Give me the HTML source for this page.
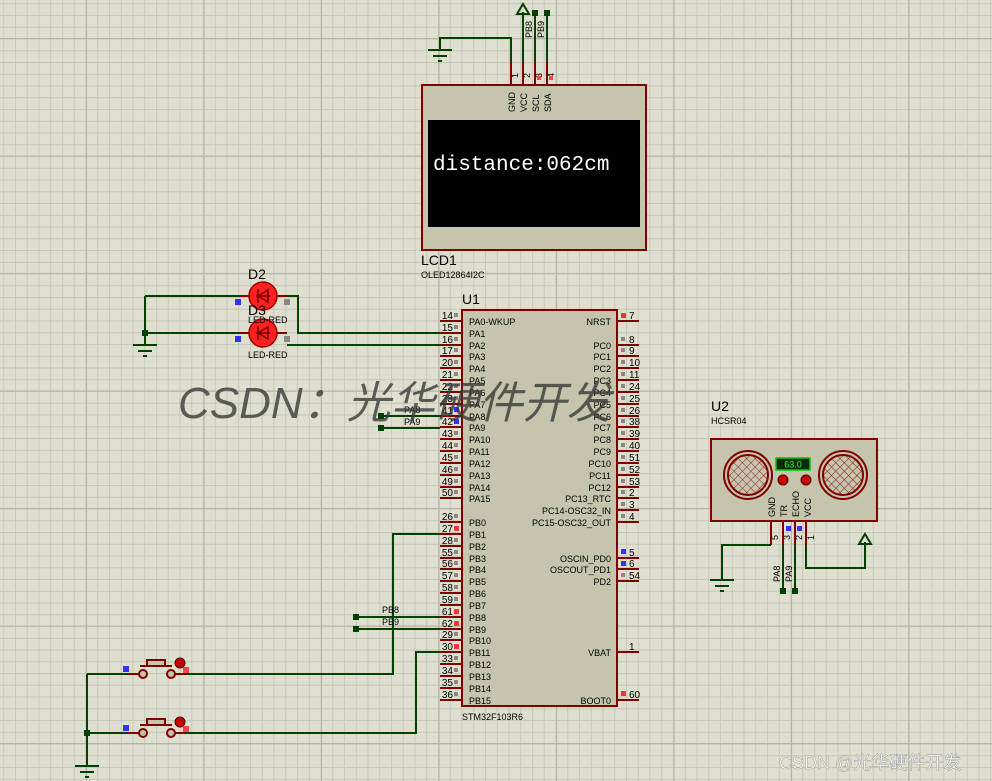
<!DOCTYPE html>
<html><head><meta charset="utf-8"><style>
html,body{margin:0;padding:0;background:#dfdfcf}
svg{display:block}
text{font-family:"Liberation Sans",Arial,sans-serif}
</style></head><body>
<svg width="992" height="781" viewBox="0 0 992 781" xmlns="http://www.w3.org/2000/svg">
<defs>
<pattern id="mi" x="3.3" y="3.3" width="11.75" height="11.75" patternUnits="userSpaceOnUse"><path d="M0 0H11.75M0 0V11.75" stroke="#c3c3b3" stroke-width="1.6" fill="none"/></pattern>
<pattern id="ma" x="86" y="38" width="117.5" height="117.5" patternUnits="userSpaceOnUse"><path d="M0 0H117.5M0 0V117.5" stroke="#b5b5a5" stroke-width="2.2" fill="none"/></pattern>
<pattern id="mesh" width="6" height="6" patternUnits="userSpaceOnUse" patternTransform="rotate(45)"><path d="M0 0H6M0 0V6" stroke="#8a1c1c" stroke-width="1"/></pattern>
</defs>
<rect width="992" height="781" fill="#dfdfcf"/>
<rect width="992" height="781" fill="url(#mi)"/>
<rect width="992" height="781" fill="url(#ma)"/>

<g stroke="#004000" stroke-width="2" fill="none">
<path d="M511 62V38H440V50"/><path d="M523 62V12"/><path d="M535 62V13"/><path d="M547 62V13"/>
<path d="M145 296H248M145 296V345M145 333H248M287 296H298V333H440M287 345H440"/>
<path d="M381 416H440M381 428H440"/>
<path d="M356 617H440M356 629H440"/>
<path d="M440 534H393V674H177M440 652H416V733H177"/>
<path d="M87 674H135M87 733H135M87 674V765"/>
<path d="M771 545H722V580M783 545V591M795 545V591M806 545V568H865V542"/>
</g>
<g fill="#004000">
<rect x="142" y="330" width="6" height="6"/><rect x="378" y="413" width="6" height="6"/><rect x="378" y="425" width="6" height="6"/>
<rect x="353" y="614" width="6" height="6"/><rect x="353" y="626" width="6" height="6"/><rect x="84" y="730" width="6" height="6"/>
<rect x="532" y="10" width="6" height="6"/><rect x="544" y="10" width="6" height="6"/>
<rect x="780" y="588" width="6" height="6"/><rect x="792" y="588" width="6" height="6"/>
</g>
<g stroke="#004000" stroke-width="2" fill="none">
<path d="M517 14L523 4L529 14Z"/><path d="M859 544L865 534L871 544Z"/>
<path d="M428 50H452M433 56H447M438 61H442"/>
<path d="M133 345H157M138 351H152M143 356H147"/>
<path d="M710 580H734M715 586H729M720 591H724"/>
<path d="M75 766H99M80 772H94M85 777H89"/>
</g>
<g font-size="9" fill="#000">
<text x="404" y="413">PA8</text><text x="404" y="425">PA9</text>
<text x="382" y="613">PB8</text><text x="382" y="625">PB9</text>
<text transform="translate(532,38) rotate(-90)">PB8</text><text transform="translate(544,38) rotate(-90)">PB9</text>
<text transform="translate(780,582) rotate(-90)">PA8</text><text transform="translate(792,582) rotate(-90)">PA9</text>
</g>

<g stroke="#800000" stroke-width="2"><path d="M511 62V85M523 62V85M535 62V85M547 62V85"/></g>
<rect x="422" y="85" width="224" height="165" fill="#c5c5ad" stroke="#800000" stroke-width="2"/>
<rect x="428" y="120" width="212" height="107" fill="#000"/>
<text x="433" y="170" font-size="21" fill="#fff" style="font-family:'Liberation Mono',monospace">distance:062cm</text>
<g font-size="9" fill="#000">
<text transform="translate(515,112) rotate(-90)">GND</text><text transform="translate(527,112) rotate(-90)">VCC</text>
<text transform="translate(539,112) rotate(-90)">SCL</text><text transform="translate(551,112) rotate(-90)">SDA</text>
<text transform="translate(518,78) rotate(-90)">1</text><text transform="translate(530,78) rotate(-90)">2</text>
<text transform="translate(542,78) rotate(-90)">3</text><text transform="translate(554,78) rotate(-90)">4</text>
</g>
<rect x="537" y="76" width="4" height="4" fill="#f44"/><rect x="549" y="76" width="4" height="4" fill="#f44"/>
<text x="421" y="265" font-size="14">LCD1</text><text x="421" y="278" font-size="9">OLED12864I2C</text>

<g stroke="#800000" stroke-width="2"><path d="M240 296H287M240 333H287"/></g>
<circle cx="263" cy="296" r="14" fill="#ff2020" stroke="#900" stroke-width="1.5"/>
<circle cx="263" cy="333" r="14" fill="#ff2020" stroke="#900" stroke-width="1.5"/>
<g stroke="#700" stroke-width="1.5" fill="none"><path d="M256 296H270M268 290L258 296L268 302ZM258 289V303"/><path d="M256 333H270M268 327L258 333L268 339ZM258 326V340"/></g>
<rect x="235" y="299" width="6" height="6" fill="#33f"/><rect x="235" y="336" width="6" height="6" fill="#33f"/>
<rect x="284" y="299" width="6" height="6" fill="#888"/><rect x="284" y="336" width="6" height="6" fill="#888"/>
<text x="248" y="279" font-size="14">D2</text><text x="248" y="315" font-size="14">D3</text>
<text x="248" y="323" font-size="9">LED-RED</text><text x="248" y="358" font-size="9">LED-RED</text>

<g stroke="#800000" stroke-width="2" fill="#c5c5ad">
<path d="M127 674H140M170 674H185M127 733H140M170 733H185" fill="none"/>
<circle cx="143" cy="674" r="4"/><circle cx="171" cy="674" r="4"/><circle cx="143" cy="733" r="4"/><circle cx="171" cy="733" r="4"/>
<path d="M140 666H172" fill="none"/><rect x="147" y="660" width="18" height="6"/>
<path d="M140 725H172" fill="none"/><rect x="147" y="719" width="18" height="6"/>
</g>
<circle cx="180" cy="663" r="5" fill="#c00" stroke="#400"/><circle cx="180" cy="722" r="5" fill="#c00" stroke="#400"/>
<rect x="123" y="666" width="6" height="6" fill="#33f"/><rect x="123" y="725" width="6" height="6" fill="#33f"/>
<rect x="183" y="667" width="6" height="6" fill="#f44"/><rect x="183" y="726" width="6" height="6" fill="#f44"/>

<text x="462" y="304" font-size="14">U1</text>
<g stroke="#800000" stroke-width="2">
<path d="M440 321H462M440 333H462M440 345H462M440 356H462M440 368H462M440 380H462M440 392H462M440 404H462M440 416H462M440 427H462M440 439H462M440 451H462M440 463H462M440 475H462M440 487H462M440 498H462"/>
<path d="M440 522H462M440 534H462M440 546H462M440 558H462M440 569H462M440 581H462M440 593H462M440 605H462M440 617H462M440 629H462M440 640H462M440 652H462M440 664H462M440 676H462M440 688H462M440 700H462"/>
<path d="M617 321H639M617 345H639M617 356H639M617 368H639M617 380H639M617 392H639M617 404H639M617 416H639M617 427H639M617 439H639M617 451H639M617 463H639M617 475H639M617 487H639M617 498H639M617 510H639M617 522H639"/>
<path d="M617 558H639M617 569H639M617 581H639M617 652H639M617 700H639"/>
</g>
<rect x="462" y="310" width="155" height="396" fill="#c5c5ad" stroke="#800000" stroke-width="2"/>
<g font-size="9" fill="#000">
<text x="469" y="325">PA0-WKUP</text><text x="469" y="337">PA1</text><text x="469" y="349">PA2</text><text x="469" y="360">PA3</text><text x="469" y="372">PA4</text><text x="469" y="384">PA5</text><text x="469" y="396">PA6</text><text x="469" y="408">PA7</text><text x="469" y="420">PA8</text><text x="469" y="431">PA9</text><text x="469" y="443">PA10</text><text x="469" y="455">PA11</text><text x="469" y="467">PA12</text><text x="469" y="479">PA13</text><text x="469" y="491">PA14</text><text x="469" y="502">PA15</text>
<text x="469" y="526">PB0</text><text x="469" y="538">PB1</text><text x="469" y="550">PB2</text><text x="469" y="562">PB3</text><text x="469" y="573">PB4</text><text x="469" y="585">PB5</text><text x="469" y="597">PB6</text><text x="469" y="609">PB7</text><text x="469" y="621">PB8</text><text x="469" y="633">PB9</text><text x="469" y="644">PB10</text><text x="469" y="656">PB11</text><text x="469" y="668">PB12</text><text x="469" y="680">PB13</text><text x="469" y="692">PB14</text><text x="469" y="704">PB15</text>
</g>
<g font-size="9" fill="#000" text-anchor="end">
<text x="611" y="325">NRST</text><text x="611" y="349">PC0</text><text x="611" y="360">PC1</text><text x="611" y="372">PC2</text><text x="611" y="384">PC3</text><text x="611" y="396">PC4</text><text x="611" y="408">PC5</text><text x="611" y="420">PC6</text><text x="611" y="431">PC7</text><text x="611" y="443">PC8</text><text x="611" y="455">PC9</text><text x="611" y="467">PC10</text><text x="611" y="479">PC11</text><text x="611" y="491">PC12</text><text x="611" y="502">PC13_RTC</text><text x="611" y="514">PC14-OSC32_IN</text><text x="611" y="526">PC15-OSC32_OUT</text>
<text x="611" y="562">OSCIN_PD0</text><text x="611" y="573">OSCOUT_PD1</text><text x="611" y="585">PD2</text><text x="611" y="656">VBAT</text><text x="611" y="704">BOOT0</text>
</g>
<g font-size="10" fill="#000" text-anchor="end">
<text x="453" y="319">14</text><text x="453" y="331">15</text><text x="453" y="343">16</text><text x="453" y="354">17</text><text x="453" y="366">20</text><text x="453" y="378">21</text><text x="453" y="390">22</text><text x="453" y="402">23</text><text x="453" y="414">41</text><text x="453" y="425">42</text><text x="453" y="437">43</text><text x="453" y="449">44</text><text x="453" y="461">45</text><text x="453" y="473">46</text><text x="453" y="485">49</text><text x="453" y="496">50</text>
<text x="453" y="520">26</text><text x="453" y="532">27</text><text x="453" y="544">28</text><text x="453" y="556">55</text><text x="453" y="567">56</text><text x="453" y="579">57</text><text x="453" y="591">58</text><text x="453" y="603">59</text><text x="453" y="615">61</text><text x="453" y="627">62</text><text x="453" y="638">29</text><text x="453" y="650">30</text><text x="453" y="662">33</text><text x="453" y="674">34</text><text x="453" y="686">35</text><text x="453" y="698">36</text>
</g>
<g font-size="10" fill="#000">
<text x="629" y="319">7</text><text x="629" y="343">8</text><text x="629" y="354">9</text><text x="629" y="366">10</text><text x="629" y="378">11</text><text x="629" y="390">24</text><text x="629" y="402">25</text><text x="629" y="414">26</text><text x="629" y="425">38</text><text x="629" y="437">39</text><text x="629" y="449">40</text><text x="629" y="461">51</text><text x="629" y="473">52</text><text x="629" y="485">53</text><text x="629" y="496">2</text><text x="629" y="508">3</text><text x="629" y="520">4</text>
<text x="629" y="556">5</text><text x="629" y="567">6</text><text x="629" y="579">54</text><text x="629" y="650">1</text><text x="629" y="698">60</text>
</g>
<g fill="#888">
<path d="M454 313h4v4h-4zM454 325h4v4h-4zM454 337h4v4h-4zM454 348h4v4h-4zM454 360h4v4h-4zM454 372h4v4h-4zM454 384h4v4h-4zM454 396h4v4h-4zM454 431h4v4h-4zM454 443h4v4h-4zM454 455h4v4h-4zM454 467h4v4h-4zM454 479h4v4h-4zM454 490h4v4h-4zM454 514h4v4h-4zM454 538h4v4h-4zM454 550h4v4h-4zM454 561h4v4h-4zM454 573h4v4h-4zM454 585h4v4h-4zM454 597h4v4h-4zM454 632h4v4h-4zM454 656h4v4h-4zM454 668h4v4h-4zM454 680h4v4h-4zM454 692h4v4h-4z"/>
<path d="M621 337h4v4h-4zM621 348h4v4h-4zM621 360h4v4h-4zM621 372h4v4h-4zM621 384h4v4h-4zM621 396h4v4h-4zM621 408h4v4h-4zM621 419h4v4h-4zM621 431h4v4h-4zM621 443h4v4h-4zM621 455h4v4h-4zM621 467h4v4h-4zM621 479h4v4h-4zM621 490h4v4h-4zM621 502h4v4h-4zM621 514h4v4h-4zM621 573h4v4h-4z"/>
</g>
<g fill="#33f"><path d="M454 407h5v5h-5zM454 419h5v5h-5zM621 549h5v5h-5zM621 561h5v5h-5z"/></g>
<g fill="#f33"><path d="M454 526h5v5h-5zM454 609h5v5h-5zM454 621h5v5h-5zM454 644h5v5h-5zM621 313h5v5h-5zM621 691h5v5h-5z"/></g>
<text x="462" y="720" font-size="9">STM32F103R6</text>

<text x="711" y="411" font-size="14">U2</text><text x="711" y="424" font-size="9">HCSR04</text>
<g stroke="#800000" stroke-width="2"><path d="M771 521V545M783 521V545M795 521V545M806 521V545"/></g>
<rect x="711" y="439" width="166" height="82" fill="#c5c5ad" stroke="#800000" stroke-width="2"/>
<g stroke="#800000" stroke-width="2"><circle cx="748" cy="475" r="24" fill="#c5c5ad"/><circle cx="748" cy="475" r="20" fill="url(#mesh)"/><circle cx="843" cy="475" r="24" fill="#c5c5ad"/><circle cx="843" cy="475" r="20" fill="url(#mesh)"/></g>
<rect x="776" y="458" width="34" height="12" fill="#0a2a0a" stroke="#0c0" stroke-width="1.5"/>
<text x="793" y="467.5" font-size="9" fill="#3f3" text-anchor="middle">63.0</text>
<circle cx="783" cy="480" r="5" fill="#c00" stroke="#400"/><circle cx="806" cy="480" r="5" fill="#c00" stroke="#400"/>
<g font-size="9" fill="#000">
<text transform="translate(775,517) rotate(-90)">GND</text><text transform="translate(787,517) rotate(-90)">TR</text><text transform="translate(799,517) rotate(-90)">ECHO</text><text transform="translate(811,517) rotate(-90)">VCC</text>
<text transform="translate(778,540) rotate(-90)">5</text><text transform="translate(790,540) rotate(-90)">3</text><text transform="translate(802,540) rotate(-90)">2</text><text transform="translate(814,540) rotate(-90)">1</text>
</g>
<rect x="786" y="526" width="5" height="5" fill="#33f"/><rect x="797" y="526" width="5" height="5" fill="#33f"/>

<text x="178" y="418" font-size="44" fill="#3a3a3a" font-style="italic" style="font-family:'Liberation Sans','WenQuanYi Zen Hei',sans-serif" opacity="0.8">CSDN：光华硬件开发</text>
<text x="779" y="769" font-size="18" fill="#ffffff" stroke="#999" stroke-width="0.5" style="font-family:'Liberation Sans','Noto Sans CJK SC',sans-serif">CSDN @光华硬件开发</text>
</svg>
</body></html>
